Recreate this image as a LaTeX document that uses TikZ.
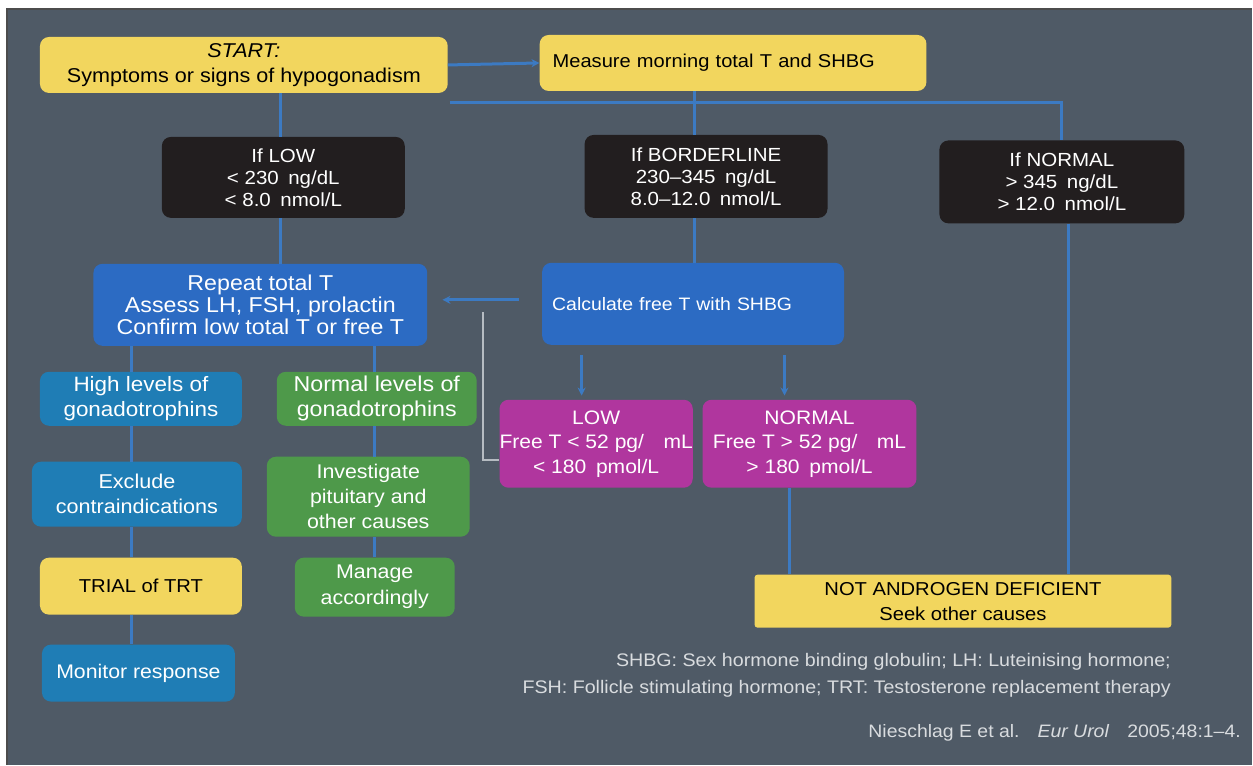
\documentclass[tikz,border=0pt]{standalone}
\usepackage{fontspec}
\setmainfont[FakeStretch=1.08]{Liberation Sans}
\usetikzlibrary{arrows.meta}
\definecolor{bgc}{HTML}{4F5A66}
\definecolor{ylw}{HTML}{F2D65E}
\definecolor{drk}{HTML}{221E1F}
\definecolor{blu}{HTML}{2C6BC3}
\definecolor{tel}{HTML}{1F7DB5}
\definecolor{grn}{HTML}{4E994A}
\definecolor{mag}{HTML}{B0369E}
\definecolor{lnc}{HTML}{3C7AC2}
\definecolor{brk}{HTML}{B6BCC2}
\definecolor{ftc}{HTML}{D9DCDF}
\newcommand{\fsz}[2]{\fontsize{#1}{#2}\selectfont}
\tikzset{
  bx/.style={rounded corners=9pt, inner sep=0pt, align=center, font=\fsz{19}{25}},
  ybox/.style={bx, fill=ylw, text=black},
  dbox/.style={bx, fill=drk, text=white, font=\fsz{19}{22}},
  bbox/.style={bx, fill=blu, text=white},
  tbox/.style={bx, fill=tel, text=white},
  gbox/.style={bx, fill=grn, text=white},
  mbox/.style={bx, fill=mag, text=white, font=\fsz{19.5}{24.5}},
  conn/.style={draw=lnc, line width=3pt},
  arr/.style={conn, -{Stealth[length=8pt,width=8pt]}},
  brkline/.style={draw=brk, line width=2pt},
}
\begin{document}
\begin{tikzpicture}[x=1pt,y=-1pt]
\fill[white] (0,0) rectangle (1253,765);
\fill[bgc] (7,9) rectangle (1253,765);
\draw[black!70, line width=1.5pt] (7,765) -- (7,9) -- (1253,9);
\useasboundingbox (0,0) rectangle (1253,765);

% nodes
\node[ybox, font=\fsz{20}{25}, minimum width=408pt, minimum height=56pt] (start) at (244,65) {\textit{START:}\\Symptoms or signs of hypogonadism};
\node[ybox, font=\fsz{18.6}{25}, minimum width=387pt, minimum height=56pt, text width=361pt, inner xsep=13pt, align=left] (measure) at (733.5,63) {Measure morning total T and SHBG};
\node[dbox, minimum width=243pt, minimum height=81pt] (ifLow) at (283.5,177.5) {If LOW\\< 230\enspace ng/dL\\< 8.0\enspace nmol/L};
\node[dbox, minimum width=243pt, minimum height=83pt] (ifBorder) at (706.5,176.5) {If BORDERLINE\\230–345\enspace ng/dL\\8.0–12.0\enspace nmol/L};
\node[dbox, minimum width=245pt, minimum height=83pt] (ifNormal) at (1062.5,182) {If NORMAL\\> 345\enspace ng/dL\\> 12.0\enspace nmol/L};
\node[bbox, font=\fsz{21.5}{22}, minimum width=334pt, minimum height=82pt] (repeat) at (260.5,305) {Repeat total T\\Assess LH, FSH, prolactin\\Confirm low total T or free T};
\node[bbox, font=\fsz{18}{22}, minimum width=302pt, minimum height=82pt, text width=282pt, inner xsep=10pt, align=left] (calc) at (693.5,304) {Calculate free T with SHBG};
\node[tbox, font=\fsz{20.8}{25}, minimum width=202pt, minimum height=54pt] (highLev) at (141,399) {High levels of\\gonadotrophins};
\node[gbox, font=\fsz{21.5}{25}, minimum width=200pt, minimum height=54pt] (normLev) at (377,399) {Normal levels of\\gonadotrophins};
\node[tbox, font=\fsz{20}{25}, minimum width=210pt, minimum height=65pt] (exclude) at (137,494.5) {Exclude\\contraindications};
\node[gbox, font=\fsz{19.8}{25}, minimum width=203pt, minimum height=80pt] (investigate) at (368.5,497) {Investigate\\pituitary and\\other causes};
\node[ybox, font=\fsz{18.7}{25}, minimum width=202pt, minimum height=57pt] (trial) at (141,586.5) {TRIAL of TRT};
\node[gbox, font=\fsz{19.8}{26}, minimum width=160pt, minimum height=59pt] (manage) at (375,587.5) {Manage\\accordingly};
\node[tbox, font=\fsz{19.7}{25}, minimum width=193pt, minimum height=57pt] (monitor) at (138.5,673.5) {Monitor response};
\node[mbox, minimum width=193pt, minimum height=88pt] (lowF) at (596.5,444) {LOW\\Free T < 52 pg/\quad mL\\< 180\enspace pmol/L};
\node[mbox, minimum width=214pt, minimum height=88pt] (normF) at (810,444) {NORMAL\\Free T > 52 pg/\quad mL\\> 180\enspace pmol/L};
\node[ybox, font=\fsz{18.7}{25}, rounded corners=3pt, minimum width=417pt, minimum height=53pt] (notAnd) at (963.5,601.5) {NOT ANDROGEN DEFICIENT\\Seek other causes};

\node[anchor=east, align=right, text=ftc, font=\fsz{18.2}{27}] (foot) at (1175,676) {SHBG: Sex hormone binding globulin; LH: Luteinising hormone;\\FSH: Follicle stimulating hormone; TRT: Testosterone replacement therapy};
\node[anchor=east, text=ftc, font=\fsz{18}{20}] (cite) at (1245,733) {Nieschlag E et al.\quad \textit{Eur Urol}\quad 2005;48:1–4.};

% connectors
\coordinate (hl) at (450,103);
\draw[arr] (start.east) -- (measure.west);
\draw[conn] (hl) -| (ifNormal.north);
\draw[conn] (start.south -| 281,0) -- (ifLow.north -| 281,0);
\draw[conn] (measure.south -| 695,0) -- (ifBorder.north -| 695,0);
\draw[conn] (ifLow.south -| 281,0) -- (repeat.north -| 281,0);
\draw[conn] (ifBorder.south -| 695,0) -- (calc.north -| 695,0);
\draw[arr, shorten <=23pt, shorten >=15pt] (calc.west |- 0,300) -- (repeat.east |- 0,300);
\draw[brkline] (lowF.west |- 0,460) -| (483,312);
\draw[conn] (repeat.south -| 132,0) -- (highLev.north -| 132,0);
\draw[conn] (highLev.south -| 132,0) -- (exclude.north -| 132,0);
\draw[conn] (exclude.south -| 132,0) -- (trial.north -| 132,0);
\draw[conn] (trial.south -| 132,0) -- (monitor.north -| 132,0);
\draw[conn] (repeat.south -| 375,0) -- (normLev.north -| 375,0);
\draw[conn] (normLev.south -| 375,0) -- (investigate.north -| 375,0);
\draw[conn] (investigate.south -| 375,0) -- (manage.north -| 375,0);
\draw[arr, shorten <=10pt, shorten >=4pt] (calc.south -| 582,0) -- (lowF.north -| 582,0);
\draw[arr, shorten <=10pt, shorten >=4pt] (calc.south -| 785,0) -- (normF.north -| 785,0);
\draw[conn] (normF.south -| 790,0) -- (notAnd.north -| 790,0);
\draw[conn] (ifNormal.south -| 1069,0) -- (notAnd.north -| 1069,0);
\end{tikzpicture}
\end{document}
